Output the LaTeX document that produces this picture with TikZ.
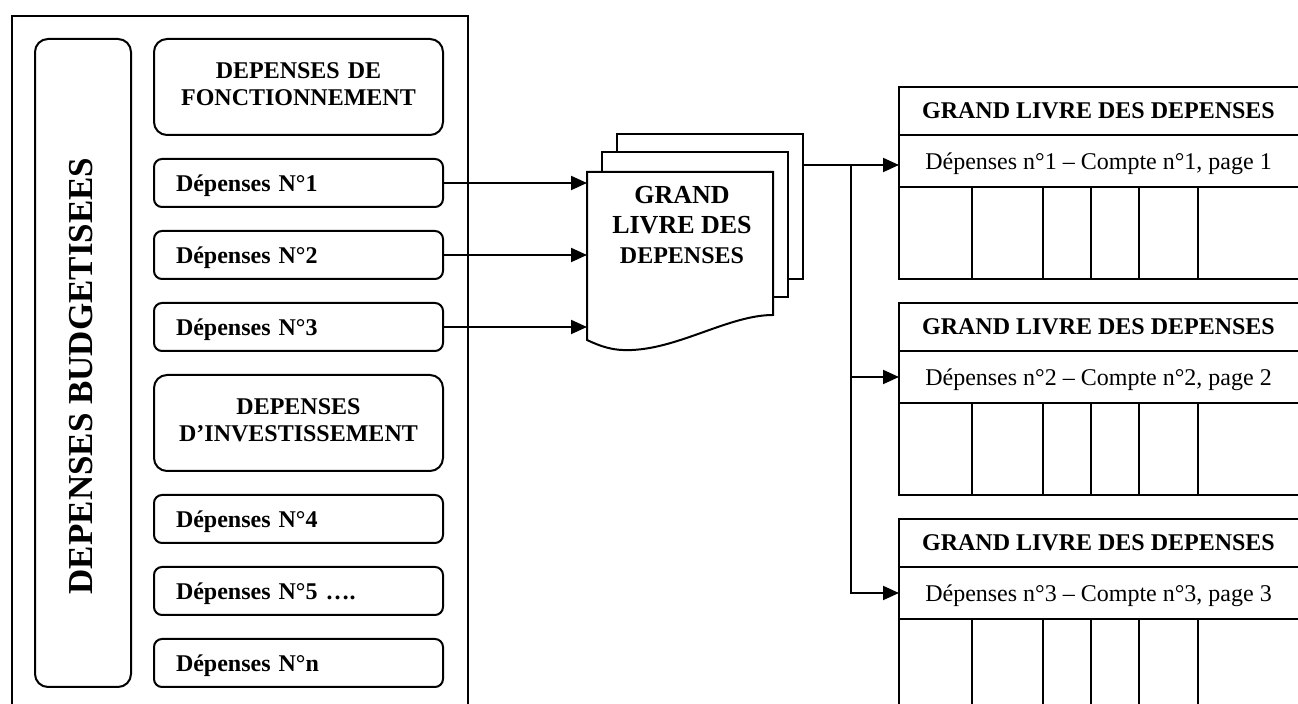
\documentclass[tikz,border=0pt]{standalone}
\usepackage{fontspec}
\setmainfont{Liberation Serif}
\usetikzlibrary{arrows.meta,calc}
\begin{document}
\begin{tikzpicture}[x=0.5pt,y=-0.5pt,line width=1pt,
  smallbox/.style={draw,rounded corners=4pt,minimum width=144.5pt,minimum height=24pt,
    inner xsep=11pt,inner ysep=0pt,text width=122.5pt,align=left,text depth=0pt,outer sep=0pt,
    font=\bfseries\fontsize{12}{14}\selectfont},
  headbox/.style={draw,rounded corners=6.5pt,minimum width=144.5pt,minimum height=48pt,
    inner xsep=2.25pt,inner ysep=0pt,text width=140pt,align=center,text depth=16pt,outer sep=0pt,
    font=\bfseries\fontsize{12}{13.5}\selectfont},
  vbox/.style={draw,rounded corners=6.5pt,minimum width=48pt,minimum height=324pt,inner sep=0pt},
  vtext/.style={rotate=90,font=\bfseries\fontsize{17.5}{20}\selectfont,inner sep=0pt},
  page/.style={draw,fill=white,minimum width=93pt,minimum height=72.5pt,inner sep=0pt,outer sep=0pt},
  doctext/.style={align=center,inner sep=0pt,font=\bfseries\fontsize{13}{15}\selectfont},
  ttitle/.style={font=\bfseries\fontsize{12}{14}\selectfont,inner sep=0pt},
  tsub/.style={font=\fontsize{12}{14}\selectfont,minimum width=199.5pt,minimum height=26pt,text depth=0pt,inner sep=0pt,outer sep=0pt},
  arr/.style={-{Triangle[length=8pt,width=7pt]}}]
\path[use as bounding box] (0,0) rectangle (1298,704);
\clip (0,0) rectangle (1298,704);
\fill[white] (0,0) rectangle (1298,704);

% left panel
\node[draw,anchor=north west,minimum width=228pt,minimum height=360pt,inner sep=0pt] (frame) at (11,15) {};
\node[vbox] (vb) at (83,363) {};
\node[vtext] (vt) at (81,376) {DEPENSES BUDGETISEES};

\node[headbox] (fonct) at (298.5,87) {DEPENSES DE\\FONCTIONNEMENT};
\node[smallbox] (n1) at (298.5,183) {Dépenses N°1};
\node[smallbox] (n2) at (298.5,255) {Dépenses N°2};
\node[smallbox] (n3) at (298.5,327) {Dépenses N°3};
\node[headbox] (invest) at (298.5,423) {DEPENSES\\D’INVESTISSEMENT};
\node[smallbox] (n4) at (298.5,519) {Dépenses N°4};
\node[smallbox] (n5) at (298.5,591) {Dépenses N°5 ….};
\node[smallbox] (nn) at (298.5,663) {Dépenses N°n};

% document stack
\node[page] (page3) at (710,206.5) {};
\node[page] (page2) at (695,225) {};
\node[minimum width=93pt,minimum height=84pt,inner sep=0pt,outer sep=0pt] (doc) at (680,256) {};
\draw[fill=white] (doc.south west) -- (doc.north west) -- (doc.north east) -- (773,315)
  .. controls (730,315) and (680,348) .. (632,350)
  .. controls (612,351) and (600,346) .. (doc.south west) -- cycle;
\node[doctext] (doctxt) at (682,225) {GRAND\\LIVRE DES\\\fontsize{12}{15}\selectfont DEPENSES};

% arrows into the document
\draw[arr] (n1.east) -- (n1.east -| doc.west);
\draw[arr] (n2.east) -- (n2.east -| doc.west);
\draw[arr] (n3.east) -- (n3.east -| doc.west);

% tables
\foreach \T/\k in {87/1,303/2,519/3}{
  \node[ttitle] (tt\k) at (1098.5,\T+24) {GRAND LIVRE DES DEPENSES};
  \node[tsub,anchor=west] (ts\k) at (899,\T+74) {Dépenses n°\k{} – Compte n°\k, page \k};
  \draw (1310,\T) -- (899,\T) -- (899,\T+192) -- (1310,\T+192);
  \draw (899,\T+48) -- (1310,\T+48);
  \draw (899,\T+100) -- (1310,\T+100);
  \foreach \c in {972,1043,1091,1139,1198} \draw (\c,\T+100) -- (\c,\T+192);
}

% output connectors
\coordinate (j) at (851,165);
\draw (page3.east |- j) -- (j);
\draw[arr] (j) -- (j -| ts1.west);
\draw[arr] (j |- ts2.west) -- (ts2.west);
\draw[arr] (j) |- (ts3.west);
\end{tikzpicture}
\end{document}
